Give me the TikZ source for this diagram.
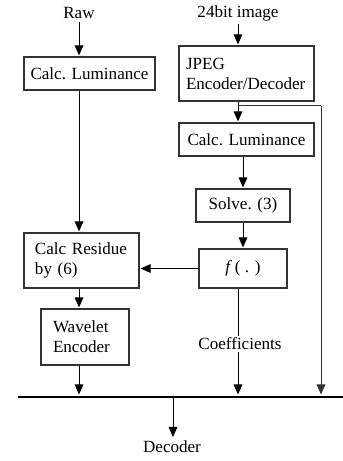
\documentclass[tikz,border=0pt]{standalone}
\usepackage{fontspec}
\setmainfont{Liberation Serif}
\usetikzlibrary{arrows.meta}
\newcommand*\pxu{0.75pt}

\begin{document}
\begin{tikzpicture}[x=0.75pt,y=0.75pt,
  every node/.style={font=\fontsize{12.8}{15}\selectfont},
  box/.style={draw=black!80, line width=0.8pt, inner sep=0pt},
  lbl/.style={inner sep=2pt},
  wire/.style={line width=0.75pt},
  flow/.style={wire, -{Triangle[length=7.5pt,width=6.5pt]}, shorten >=0.8pt}]
\useasboundingbox (0,0) rectangle (343,461);
% inputs
\node[lbl] (raw) at (79,448) {Raw};
\node[lbl] (img) at (238,448) {24bit image};
% left column
\node[box, minimum width=131*\pxu, minimum height=33*\pxu] (lumA) at (89.5,387.5) {Calc. Luminance};
\node[box, minimum width=115*\pxu, minimum height=55*\pxu, text width=93*\pxu, align=left] (res) at (81.5,200.5) {Calc Residue\\by (6)};
\node[box, minimum width=88*\pxu, minimum height=56*\pxu, text width=64*\pxu, align=left] (wav) at (85,124) {Wavelet\\Encoder};
% right column
\node[box, minimum width=135*\pxu, minimum height=55*\pxu, text width=121*\pxu, align=left] (jpeg) at (246.5,387.5) {JPEG\\Encoder/Decoder};
\node[box, minimum width=135*\pxu, minimum height=33*\pxu] (lumB) at (246.5,321.5) {Calc. Luminance};
\node[box, minimum width=94*\pxu, minimum height=33*\pxu] (solve) at (243,255.5) {Solve. (3)};
\node[box, minimum width=88*\pxu, minimum height=39*\pxu] (fun) at (243,192.5) {\textit{f}\,( . )};
% bus
\coordinate (busL) at (18,64);
\coordinate (busR) at (343,64);
\coordinate (busM) at (173,64);
\coordinate (tap) at (238,355);
\coordinate (side) at (321,355);
\draw[line width=2.2pt] (busL) -- (busR);
% connectors
\draw[flow] (raw) -- (raw |- lumA.north);
\draw[flow] (lumA.south -| raw) -- (res.north -| raw);
\draw[flow] (res.south -| raw) -- (wav.north -| raw);
\draw[flow] (wav.south -| raw) -- ([yshift=1.1pt]raw |- busL);
\draw[flow] (img) -- (img |- jpeg.north);
\draw[flow] (jpeg.south -| img) -- (lumB.north -| img);
\draw[wire, black!80] (tap) -- (side);
\draw[flow, black!80] (side) -- ([yshift=1.1pt]side |- busL);
\draw[flow] (lumB.south -| solve) -- (solve.north);
\draw[flow] (solve) -- (fun);
\draw[flow] (fun.west) -- (fun.west -| res.east);
\draw[flow] (fun.south -| img) -- ([yshift=1.1pt]img |- busL);
\node[lbl, fill=white, inner sep=1.5pt] (coef) at (240,117) {Coefficients};
% output
\node[lbl] (dec) at (172,14) {Decoder};
\draw[flow] (busM) -- (busM |- dec.north);
\end{tikzpicture}
\end{document}
